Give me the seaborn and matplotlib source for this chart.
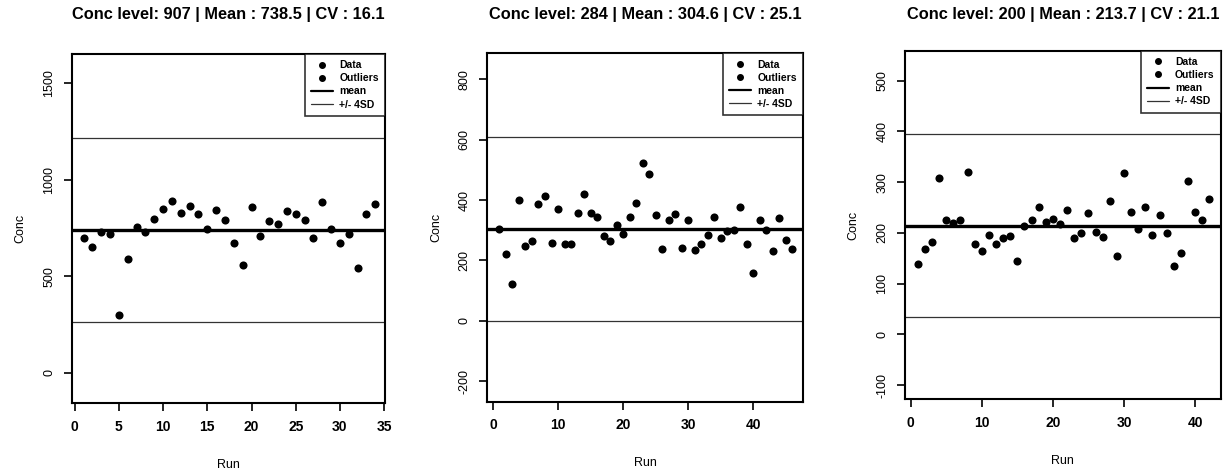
import numpy as np
import pandas as pd
import matplotlib
matplotlib.use('Agg')
import matplotlib.pyplot as plt
import seaborn as sns
from matplotlib.lines import Line2D

# values
conc_levels = [907, 284, 200]
means = [738.5, 304.6, 213.7]
cvs = [16.1, 25.1, 21.1]

conc_907 = [697, 650, 728, 719, 299, 589, 755, 728, 797, 850,
            890, 829, 864, 824, 743, 843, 790, 674, 560, 859,
            709, 788, 773, 837, 824, 790, 700, 886, 743, 674,
            719, 543, 821, 876]
conc_284 = [305, 222, 122, 400, 247, 264, 386, 414, 258, 371,
            253, 253, 358, 420, 358, 344, 282, 264, 316, 286,
            344, 390, 523, 485, 350, 239, 333, 353, 242, 333,
            235, 253, 284, 344, 273, 297, 300, 376, 253, 158,
            333, 300, 231, 340, 268, 238]
conc_200 = [139, 168, 182, 308, 225, 220, 225, 319, 179, 164,
            196, 179, 189, 193, 144, 214, 225, 251, 222, 228,
            217, 245, 189, 199, 239, 202, 191, 262, 154, 318,
            241, 208, 250, 196, 235, 199, 135, 160, 302, 242,
            225, 267]

series = [conc_907, conc_284, conc_200]
y_ticks = [np.arange(0, 1501, 500), np.arange(-200, 801, 200), np.arange(-100, 501, 100)]
x_ticks = [np.arange(0, 36, 5), np.arange(0, 41, 10), np.arange(0, 41, 10)]
y_lims = [(-157, 1652), (-268, 886), (-128, 559)]
x_lims = [(-0.3, 35.1), (-0.87, 47.6), (-0.8, 43.6)]
positions = [[0.0589, 0.1462, 0.2559, 0.7394],
             [0.3984, 0.1489, 0.2581, 0.7381],
             [0.7400, 0.1540, 0.2581, 0.7386]]

sns.set_style('ticks')
plt.rcParams['font.family'] = ['Liberation Sans', 'DejaVu Sans']
plt.rcParams['text.color'] = 'black'
plt.rcParams['axes.labelcolor'] = 'black'
plt.rcParams['xtick.color'] = 'black'
plt.rcParams['ytick.color'] = 'black'

fig = plt.figure(figsize=(12.23, 4.72), dpi=100)

for i, vals in enumerate(series):
    ax = fig.add_axes(positions[i])
    df = pd.DataFrame({'Run': np.arange(1, len(vals) + 1), 'Conc': vals})
    sns.scatterplot(data=df, x='Run', y='Conc', ax=ax, color='black',
                    s=34, linewidth=0, marker='o', zorder=3)
    m = means[i]
    sd = m * cvs[i] / 100
    ax.axhline(m, color='black', lw=2.4, zorder=2)
    ax.axhline(m + 4 * sd, color='#333333', lw=0.9, zorder=2)
    ax.axhline(m - 4 * sd, color='#333333', lw=0.9, zorder=2)

    ax.set_xlim(x_lims[i])
    ax.set_ylim(y_lims[i])
    ax.set_xticks(x_ticks[i])
    ax.set_yticks(y_ticks[i])
    ax.set_xticklabels([str(t) for t in x_ticks[i]], fontsize=10, fontweight='bold')
    ax.set_yticklabels([str(t) for t in y_ticks[i]], fontsize=9, rotation=90, va='center')
    ax.tick_params(axis='both', direction='out', length=6, width=1.2, color='black', pad=6)
    for sp in ax.spines.values():
        sp.set_visible(True)
        sp.set_linewidth(1.5)
        sp.set_color('black')
    ax.set_xlabel('Run', fontsize=9, labelpad=18)
    ax.set_ylabel('Conc', fontsize=9, labelpad=12)

    # titles sit on one common line across the figure
    x_center = positions[i][0] + positions[i][2] / 2
    fig.text(x_center, 1 - 14 / 472,
             f'Conc level: {conc_levels[i]} | Mean : {m} | CV : {cvs[i]}',
             fontsize=11.8, fontweight='bold', ha='center', va='center')

    handles = [Line2D([0], [0], marker='o', color='black', lw=0, markersize=4),
               Line2D([0], [0], marker='o', color='black', lw=0, markersize=4),
               Line2D([0], [0], color='black', lw=1.6),
               Line2D([0], [0], color='#333333', lw=0.9)]
    leg = ax.legend(handles, ['Data', 'Outliers', 'mean', '+/- 4SD'],
                    loc='upper right', fontsize=7.5, frameon=True, fancybox=False,
                    borderaxespad=0, handlelength=2.1, handletextpad=0.6,
                    labelspacing=0.3, borderpad=0.6)
    leg.get_frame().set_edgecolor('black')
    leg.get_frame().set_linewidth(1.2)
    for t in leg.get_texts():
        t.set_fontweight('bold')

fig.savefig('out.png', dpi=100)
